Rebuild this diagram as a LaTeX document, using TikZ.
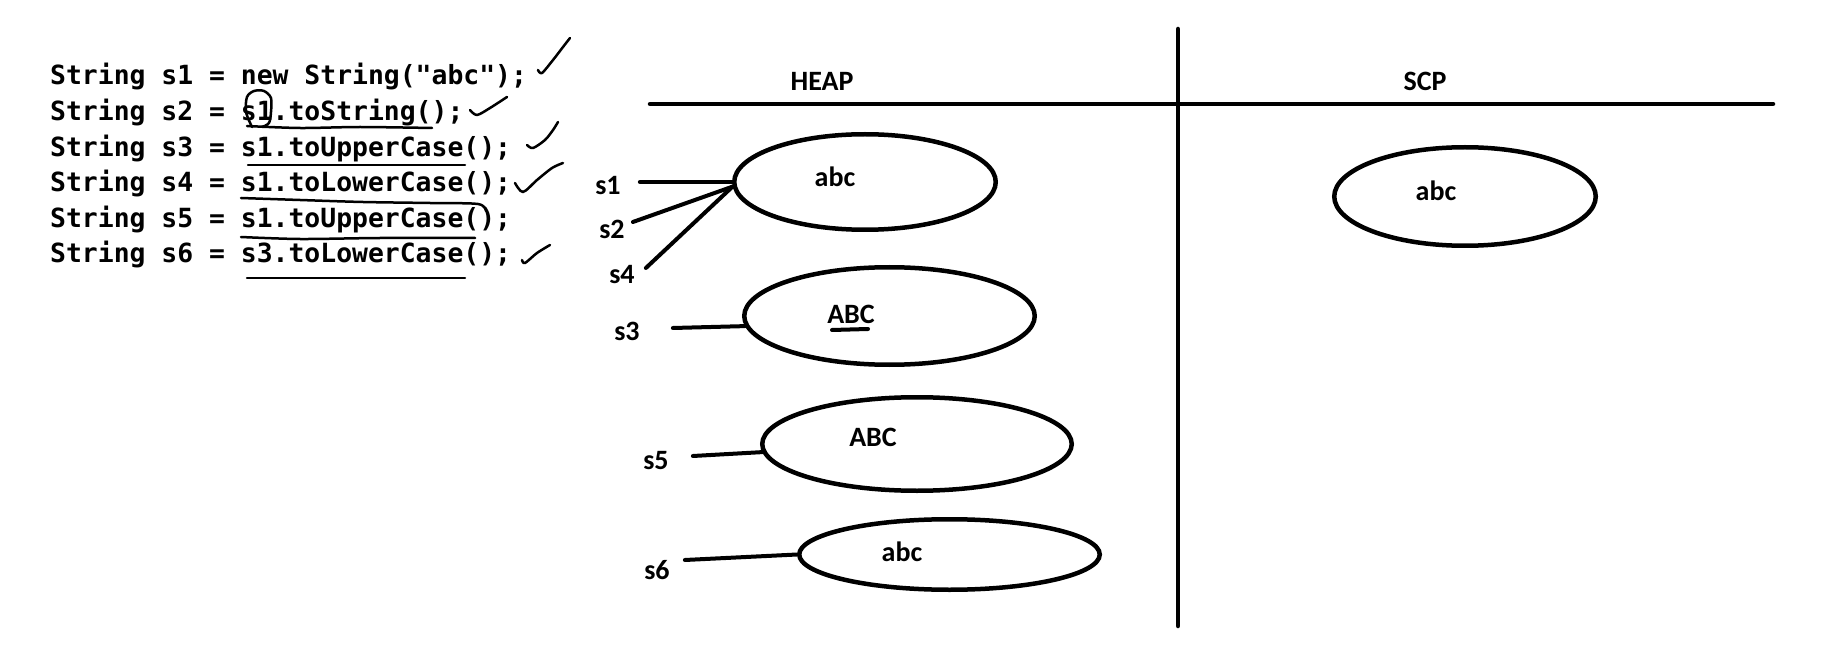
\documentclass[tikz,border=0pt]{standalone}
\usepackage{fontspec}
\newfontfamily\codefont{DejaVu Sans Mono}
\newfontfamily\labfont{Carlito}
\usetikzlibrary{shapes.geometric}
\begin{document}
\begin{tikzpicture}[x=1pt,y=-1pt,
  code/.style={anchor=base west, inner sep=0pt, font=\codefont\bfseries\fontsize{26.4}{30}\selectfont},
  lab/.style={inner sep=0pt, font=\labfont\bfseries\fontsize{28}{30}\selectfont},
  obj/.style={ellipse, draw, line width=4.5pt, inner sep=0pt},
  ref/.style={line width=4pt, line cap=round},
  pen/.style={line width=2.5pt, line cap=round, line join=round},
  axis/.style={line width=4.5pt, line cap=round}]
\fill[white] (0,0) rectangle (1824,647);
\path[use as bounding box] (0,0) rectangle (1824,647);

% code
\node[code] (l1) at (50,85)    {String s1 = new String("abc");};
\node[code] (l2) at (50,120.6) {String s2 = s1.toString();};
\node[code] (l3) at (50,156.2) {String s3 = s1.toUpperCase();};
\node[code] (l4) at (50,191.8) {String s4 = s1.toLowerCase();};
\node[code] (l5) at (50,227.4) {String s5 = s1.toUpperCase();};
\node[code] (l6) at (50,263)   {String s6 = s3.toLowerCase();};

% hand marks on code
\draw[pen] plot[smooth] coordinates {(252,127) (246,112) (247,97) (254,91) (264,91) (271,98) (271,112) (269,123) (262,127)};
\draw[pen] plot[smooth] coordinates {(247,126) (300,128) (360,127) (432,128)};
\draw[pen] (248,165) -- (465,165);
\draw[pen] plot[smooth] coordinates {(241,198) (300,200) (363,202) (430,203) (478,204) (486,211)};
\draw[pen] plot[smooth] coordinates {(241,237) (300,239) (380,238) (475,238)};
\draw[pen] (247,278) -- (465,278);

\draw[pen] plot[smooth] coordinates {(538,70) (542,73) (553,60) (563,47) (570,38)};
\draw[pen] plot[smooth] coordinates {(470,110) (477,115) (490,108) (507,97)};
\draw[pen] plot[smooth] coordinates {(527,145) (533,148) (545,140) (553,130) (558,122)};
\draw[pen] plot[smooth] coordinates {(515,183) (523,192) (537,180) (552,168) (563,163)};
\draw[pen] plot[smooth] coordinates {(522,260) (525,263) (537,253) (550,245)};

% areas
\draw[axis] (1178,29) -- (1178,626);
\draw[axis] (650,104) -- (1773,104);
\node[lab] (heap) at (822,81) {HEAP};
\node[lab] (scp) at (1425,81) {SCP};

% objects
\node[obj, minimum width=261.5pt, minimum height=95.5pt] (e1) at (865,182) {};
\node[obj, minimum width=290.5pt, minimum height=97.5pt] (e2) at (889.5,316) {};
\node[obj, minimum width=309.5pt, minimum height=93.5pt] (e3) at (917,444) {};
\node[obj, minimum width=300.5pt, minimum height=70.5pt] (e4) at (949.5,554.5) {};
\node[obj, minimum width=261.5pt, minimum height=98.5pt] (e5) at (1465,196.5) {};

\node[lab] (t1) at (835,177) {abc};
\node[lab] (t2) at (851,314) {ABC};
\draw[line width=4pt, line cap=round] ([shift={(-19pt,-16pt)}]t2.center) -- ([shift={(17pt,-15pt)}]t2.center);
\node[lab] (t3) at (873,437) {ABC};
\node[lab] (t4) at (902,552) {abc};
\node[lab] (t5) at (1436,191) {abc};

% references
\node[lab] (s1) at (608,186) {s1};
\node[lab] (s2) at (612,229) {s2};
\node[lab] (s4) at (622,275) {s4};
\node[lab] (s3) at (627,331) {s3};
\node[lab] (s5) at (656,461) {s5};
\node[lab] (s6) at (657,570) {s6};

\draw[ref] ([shift={(19pt,4pt)}]s1.east) -- (e1.west);
\draw[ref] ([shift={(8pt,7pt)}]s2.east) -- (e1.182);
\draw[ref] ([shift={(11pt,7pt)}]s4.east) -- (e1.182);
\draw[ref] ([shift={(33pt,3pt)}]s3.east) -- (e2.184);
\draw[ref] ([shift={(24pt,5pt)}]s5.east) -- (e3.183);
\draw[ref] ([shift={(15pt,10pt)}]s6.east) -- (e4.west);
\end{tikzpicture}
\end{document}
